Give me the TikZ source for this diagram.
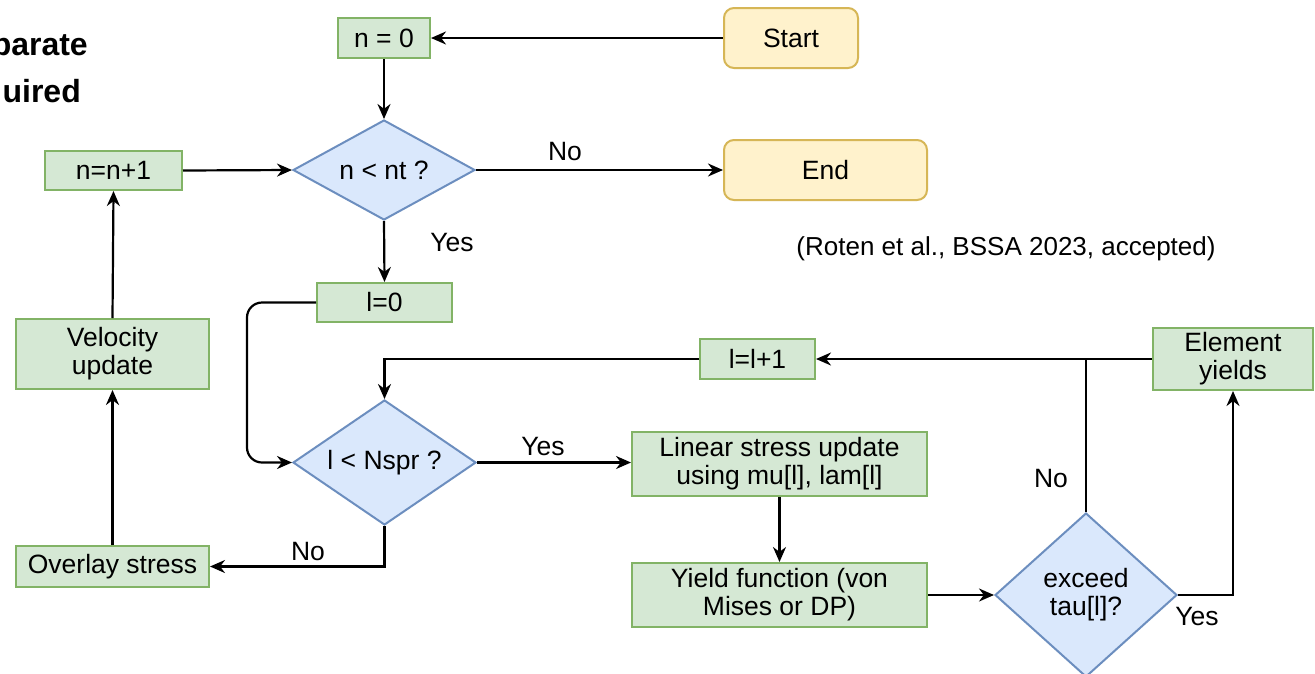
\documentclass[tikz,border=0pt]{standalone}
\usepackage{fontspec}
\setmainfont{Liberation Sans}
\usetikzlibrary{shapes.geometric,arrows.meta}
\definecolor{gfill}{HTML}{D5E8D4}
\definecolor{gdraw}{HTML}{82B366}
\definecolor{bfill}{HTML}{DAE8FC}
\definecolor{bdraw}{HTML}{6C8EBF}
\definecolor{yfill}{HTML}{FFF2CC}
\definecolor{ydraw}{HTML}{D6B656}
\tikzset{
  txt/.style={font=\fontsize{26.5}{28}\selectfont},
  gbox/.style={txt, draw=gdraw, fill=gfill, line width=2pt, inner sep=0pt, align=center},
  ybox/.style={txt, draw=ydraw, fill=yfill, line width=2pt, inner sep=0pt, rounded corners=10pt},
  dbox/.style={txt, diamond, draw=bdraw, fill=bfill, line width=2pt, inner sep=0pt, align=center},
  lbl/.style={txt, inner sep=0pt},
  ttl/.style={font=\fontsize{32}{43}\selectfont\bfseries, anchor=east, inner sep=0pt},
  arr/.style={line width=2.2pt, -{Stealth[length=15pt,width=13pt]}},
  ln/.style={line width=2.2pt},
}
\begin{document}
\begin{tikzpicture}[x=1pt,y=-1pt]
\clip (0,0) rectangle (1315,673);
\fill[white] (0,0) rectangle (1315,673);
% partial title
\node[ttl] (title1) at (88,48) {parate};
\node[ttl] (title2) at (81,91) {uired};
% nodes
\node[gbox, minimum width=92, minimum height=40] (n0) at (384,38) {n = 0};
\node[ybox, minimum width=134, minimum height=60] (start) at (791,38) {Start};
\node[dbox, aspect=1.82, minimum width=182, minimum height=100] (d1) at (384,170) {n < nt ?};
\node[gbox, minimum width=137, minimum height=39] (inc) at (113.5,170.5) {n=n+1};
\node[ybox, minimum width=203, minimum height=60] (end) at (825.5,170) {End};
\node[gbox, minimum width=135, minimum height=39] (l0) at (384.5,302.5) {l=0};
\node[lbl, font=\fontsize{26}{28}\selectfont] (cite) at (1006,249) {(Roten et al., BSSA 2023, accepted)};
\node[gbox, minimum width=193, minimum height=70] (vel) at (112.5,354) {Velocity\\update};
\node[dbox, aspect=1.46, minimum width=183, minimum height=125] (d2) at (384.5,462.5) {l < Nspr ?};
\node[gbox, minimum width=295, minimum height=64] (lin) at (779.5,464) {Linear stress update\\using mu[l], lam[l]};
\node[gbox, minimum width=193, minimum height=41] (ov) at (112.5,566.5) {Overlay stress};
\node[gbox, minimum width=295, minimum height=64] (yf) at (779.5,595) {Yield function (von\\Mises or DP)};
\node[dbox, aspect=1.11, minimum width=182, minimum height=164] (ex) at (1086,595) {exceed\\tau[l]?};
\node[gbox, minimum width=160, minimum height=62] (ey) at (1233,359) {Element\\yields};
\node[gbox, minimum width=115, minimum height=40] (ll) at (757.5,359) {l=l+1};
% labels
\node[lbl] (lno1) at (565,152) {No};
\node[lbl] (lyes1) at (452,243) {Yes};
\node[lbl] (lyes2) at (543,447) {Yes};
\node[lbl] (lno2) at (308,552) {No};
\node[lbl] (lno3) at (1051,479) {No};
\node[lbl] (lyes3) at (1197,617) {Yes};
% connectors
\draw[arr] (start.west) -- (n0.east);
\draw[arr] (n0.south) -- (d1.north);
\draw[arr] (inc.east) -- (d1.west);
\draw[arr] (d1.east) -- (end.west);
\draw[arr] (d1.south) -- (l0.north);
\draw[arr, rounded corners=15pt] (l0.west) -| ([xshift=-45pt]d2.west) -- (d2.west);
\draw[arr] (d2.east) -- (lin.west |- d2.east);
\draw[arr] (d2.south) |- (ov.east);
\draw[arr] (ov.north) -- (vel.south);
\draw[arr] (vel.north) -- (inc.south);
\draw[arr] (lin.south) -- (yf.north);
\draw[arr] (yf.east) -- (ex.west);
\draw[arr] (ex.east) -| (ey.south);
\draw[ln] (ex.north) -- (ex.north |- ey.west);
\draw[arr] (ey.west) -- (ll.east);
\draw[arr] (ll.west) -| (d2.north);
\end{tikzpicture}
\end{document}
